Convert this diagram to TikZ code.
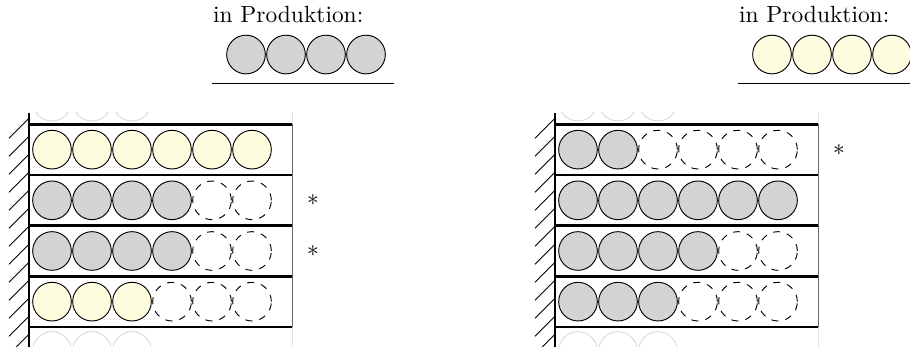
\documentclass[tikz,border=0pt]{standalone}
\usepackage{tikz}
\usetikzlibrary{positioning}

\definecolor{prodyellow}{HTML}{FFFDE0}
\definecolor{prodgray}{HTML}{D3D3D3}

\tikzset{
  ball/.style={draw, fill=#1},
  hole/.style={draw, dashed},
  ghost/.style={draw=black!15},
  board/.style={line width=1.2pt},
}

\begin{document}
\begin{tikzpicture}
  \clip (-0.435,-0.3) rectangle (13.215,4.905);

  % two racks side by side: name / shift / colour in production / rows (row/filled/colour) / marked rows
  \foreach \p/\sx/\tc/\rowlist/\marklist in {
      l/0/prodgray/{3/6/prodyellow,2/4/prodgray,1/4/prodgray,0/3/prodyellow}/{2,1},
      r/7.89/prodyellow/{3/2/prodgray,2/6/prodgray,1/4/prodgray,0/3/prodgray}/{3}}
  {
    \begin{scope}[xshift=\sx cm]
      % in production
      \node[anchor=base west, inner sep=0pt] (prod-\p) at (2.755,4.56) {in Produktion:};
      \foreach \i in {0,...,3}
        \draw[ball=\tc] (3.255+0.6*\i,4.087) circle (0.29);
      \draw (2.745,3.66) -- (5.475,3.66);

      % rack
      \begin{scope}
        \clip (-0.5,-0.3) rectangle (4.1,3.21);
        % right edge
        \draw[black!12] (3.945,-0.3) -- (3.945,3.21);
        \draw[black!60] (3.945,0) -- (3.945,3.04);
        % boxes on the neighbouring shelves
        \foreach \i in {0,1,2} {
          \draw[ghost] (0.345+0.6*\i,3.38) circle (0.29);
          \draw[ghost] (0.345+0.6*\i,-0.36) circle (0.29);
        }
        % boxes, dashed where a place is free
        \foreach \r/\n/\col in \rowlist
          \foreach \i in {1,...,6} {
            \ifnum\i>\n
              \draw[hole] (0.6*\i-0.255,0.76*\r+0.38) circle (0.29);
            \else
              \draw[ball=\col] (0.6*\i-0.255,0.76*\r+0.38) circle (0.29);
            \fi
          }
        % boards
        \foreach \r in {0,...,4}
          \draw[board] (0,0.76*\r) -- (3.945,0.76*\r);
        % wall with hatching
        \foreach \k in {0,...,13}
          \draw (0,3.13-0.27*\k) -- ++(-0.3,-0.3);
        \draw[board] (0,-0.3) -- (0,3.21);
      \end{scope}

      \foreach \r in \marklist
        \node (star-\p-\r) at (4.26,0.76*\r+0.38) {$\ast$};
    \end{scope}
  }
\end{tikzpicture}
\end{document}
